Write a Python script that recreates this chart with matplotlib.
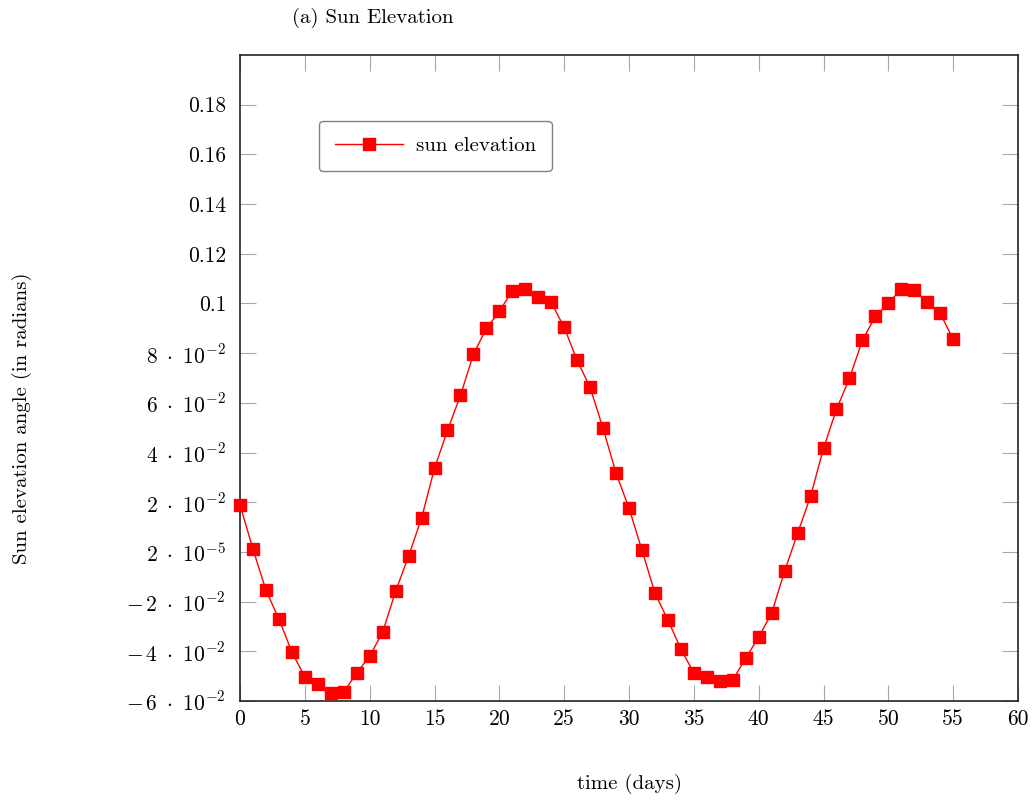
import matplotlib
matplotlib.use('Agg')
import matplotlib.pyplot as plt
import numpy as np

# data (sun elevation, radians, per day)
days = list(range(56))
elevation = [0.0189, 0.0011, -0.0154, -0.0270, -0.0403, -0.0503, -0.0532, -0.0568,
             -0.0564, -0.0487, -0.0419, -0.0323, -0.0158, -0.0017, 0.0136, 0.0337,
             0.0489, 0.0630, 0.0795, 0.0900, 0.0968, 0.1052, 0.1060, 0.1028,
             0.1004, 0.0904, 0.0771, 0.0662, 0.0497, 0.0317, 0.0176, 0.0007,
             -0.0166, -0.0274, -0.0391, -0.0487, -0.0503, -0.0520, -0.0516, -0.0427,
             -0.0343, -0.0246, -0.0077, 0.0075, 0.0224, 0.0417, 0.0574, 0.0699,
             0.0852, 0.0948, 0.1000, 0.1060, 0.1056, 0.1004, 0.0960, 0.0856]

x_ticks = list(range(0, 61, 5))
y_ticks = [-0.06, -0.04, -0.02, 0.0, 0.02, 0.04, 0.06, 0.08, 0.10, 0.12, 0.14, 0.16, 0.18]
y_tick_labels = [r'$-\,6\ \cdot\ 10^{-2}$', r'$-\,4\ \cdot\ 10^{-2}$', r'$-\,2\ \cdot\ 10^{-2}$',
                 r'$2\ \cdot\ 10^{-5}$', r'$2\ \cdot\ 10^{-2}$', r'$4\ \cdot\ 10^{-2}$',
                 r'$6\ \cdot\ 10^{-2}$', r'$8\ \cdot\ 10^{-2}$', '0.1', '0.12', '0.14', '0.16', '0.18']

plt.rcParams['font.family'] = 'cmr10'
plt.rcParams['mathtext.fontset'] = 'cm'
plt.rcParams['axes.unicode_minus'] = False

fig = plt.figure(figsize=(10.35, 8.01), dpi=100)
ax = fig.add_axes([0.2319, 0.1248, 0.7517, 0.8065])

ax.plot(days, elevation, color='red', linewidth=1.0, marker='s', markersize=9.3,
        markerfacecolor='red', markeredgecolor='red', clip_on=False,
        label='sun elevation', zorder=3)

ax.set_xlim(0, 60)
ax.set_ylim(-0.06, 0.2)
ax.set_xticks(x_ticks)
ax.set_xticklabels([str(t) for t in x_ticks])
ax.set_yticks(y_ticks)
ax.set_yticklabels(y_tick_labels)
ax.tick_params(direction='in', length=11.5, width=0.8, color='#a8a8a8',
               top=True, right=True, labelsize=15.5, pad=10)
ax.tick_params(axis='x', pad=6)
for s in ax.spines.values():
    s.set_linewidth(1.2)
    s.set_color('#222222')

ax.set_xlabel('time (days)', fontsize=15)
ax.set_ylabel('Sun elevation angle (in radians)', fontsize=15)
ax.xaxis.set_label_coords(0.5, -0.112)
ax.yaxis.set_label_coords(-0.268, 0.438)

leg = ax.legend(loc='upper left', bbox_to_anchor=(0.1015, 0.898), fontsize=15,
                fancybox=True, framealpha=1, edgecolor='#808080',
                handlelength=3.3, handletextpad=0.6, borderpad=0.75, borderaxespad=0)
leg.get_frame().set_linewidth(1.0)

fig.text(0.282, 0.977, '(a) Sun Elevation', fontsize=15, va='center', ha='left')

fig.savefig('out.png', dpi=100)
